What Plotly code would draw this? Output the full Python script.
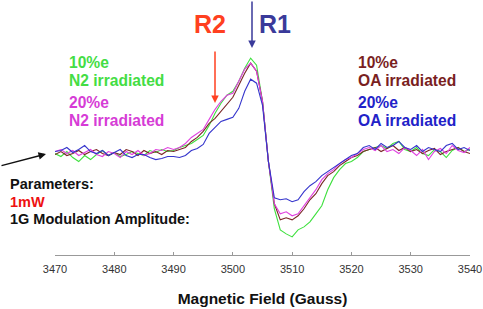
import plotly.graph_objects as go

field = list(range(3470, 3541))

green_n2_10 = [0, -3, 2, -4, -8, -2, -6, -1, 3, -2, 1, -3, -1, 2, 0, -2, 3, 1, 4, 2,
               3, 6, 8, 10, 14, 18, 28,
               40, 50, 58, 62, 72, 85, 95, 88,
               52, -8, -55, -76, -80, -83, -76, -73, -68, -60, -52, -36, -24, -16, -10, -8, -4,
               2, 4, 6, 8, 5, 10, 12, 4, 2, 6, 0, -2, 4, 2, -4, 3, 6, 2, 4]
magenta_n2_20 = [2, 4, 0, 3, -2, 1, 4, -1, -3, 2, 0, -4, 2, -1, 3, -2, 0, 4, 3, 6,
                 4, 6, 10, 16, 20, 24, 34,
                 44, 52, 58, 60, 72, 84, 90, 82,
                 52, -8, -50, -60, -58, -62, -60, -52, -44, -36, -26, -20, -16, -10, -6, -4, 0,
                 4, 6, 3, 8, 2, 4, 0, 6, 3, -2, 4, -6, 2, 5, 0, 8, 3, 1, 6]
brown_oa_10 = [-1, 2, -2, 0, 3, -1, 2, 4, 0, -2, 1, -1, 4, 2, -2, 3, 0, 2, -1, 3,
               2, 4, 6, 12, 16, 22, 30,
               35, 42, 50, 56, 68, 80, 90, 82,
               52, -8, -50, -66, -64, -66, -62, -55, -46, -40, -30, -22, -18, -12, -8, -4, -2,
               2, 4, 6, 2, 5, 8, 3, 6, 2, 4, 0, 3, 5, -1, 2, 4, 6, 2, 0]
blue_oa_20 = [2, 3, 6, 1, 4, 8, 2, 0, 3, -2, 1, 4, -2, -4, -1, -1, -4, -6, -5, -3,
              -3, -4, -2, 3, 5, 9, 20,
              26, 32, 34, 36, 45, 62, 74, 70,
              48, -8, -44, -46, -45, -48, -46, -38, -32, -28, -22, -18, -14, -10, -6, -2, 0,
              6, 8, 4, 10, 6, 8, 12, 6, 4, 8, 2, 6, 4, 2, 8, 10, 4, 6, 3]

series_names = ["10%e N2 irradiated", "10%e OA irradiated", "20%e N2 irradiated", "20%e OA irradiated"]
series_values = [green_n2_10, brown_oa_10, magenta_n2_20, blue_oa_20]
series_colors = ["#3ee03e", "#7a2626", "#e040e0", "#3535cc"]

tick_vals = [3470, 3480, 3490, 3500, 3510, 3520, 3530, 3540]
x_title = "Magnetic Field (Gauss)"

W, H = 483, 309
L, R, T, B = 55, 13, 40, 54
PW, PH = W - L - R, H - T - B


def px(x):
    return (x - L) / PW


def py(y):
    return (H - B - y) / PH


fig = go.Figure()
for name, vals, col in zip(series_names, series_values, series_colors):
    fig.add_trace(go.Scatter(x=field, y=vals, mode="lines", name=name,
                             line=dict(color=col, width=1.1)))

font_b = "Liberation Sans"
ann = []


def txt(x, y, s, color, size=15.6, xanchor="left"):
    ann.append(dict(x=px(x), y=py(y), xref="paper", yref="paper", text="<b>" + s + "</b>",
                    showarrow=False, xanchor=xanchor, yanchor="middle", borderpad=0,
                    font=dict(family=font_b, size=size, color=color)))


txt(68, 62, "10%e", "#44dd44")
txt(68, 80, "N2 irradiated", "#44dd44")
txt(68, 102, "20%e", "#d63cd6")
txt(68, 120, "N2 irradiated", "#d63cd6")
txt(357, 62, "10%e", "#7a1f1f")
txt(357, 80, "OA irradiated", "#7a1f1f")
txt(357, 102, "20%e", "#2222c8")
txt(357, 120, "OA irradiated", "#2222c8")
txt(9, 184, "Parameters:", "#111111", 14.5)
txt(9, 202, "1mW", "#ee1111", 14.5)
txt(9, 219, "1G Modulation Amplitude:", "#111111", 14.5)
txt(210, 24, "R2", "#ff4020", 25, "center")
txt(275, 24, "R1", "#3a3a9a", 25, "center")


def arrow(x, y, ax, ay, color, width):
    ann.append(dict(x=px(x), y=py(y), xref="paper", yref="paper", text="",
                    showarrow=True, ax=ax, ay=ay, axref="pixel", ayref="pixel",
                    arrowhead=2, arrowsize=1, arrowwidth=width, arrowcolor=color))


arrow(252, 48, 0, -50, "#3a3a9a", 1.5)
arrow(215, 103, 0, -53, "#ff4020", 1.5)
arrow(46, 154, -47, 12, "#111111", 1.5)

fig.update_layout(
    width=W, height=H,
    margin=dict(l=L, r=R, t=T, b=B, autoexpand=False),
    paper_bgcolor="white", plot_bgcolor="white",
    showlegend=False,
    annotations=ann,
    xaxis=dict(range=[3470, 3540], tickvals=tick_vals, showgrid=False, zeroline=False,
               automargin=False,
               showline=True, linecolor="#999999", linewidth=1, ticks="inside", ticklen=3,
               tickcolor="#999999", ticklabelstandoff=4,
               tickfont=dict(family="Liberation Sans", size=11, color="#333333"),
               title=dict(text="<b>" + x_title + "</b>", standoff=18,
                          font=dict(family=font_b, size=15.5, color="#111111"))),
    yaxis=dict(range=[-101, 113], visible=False, showgrid=False, zeroline=False, automargin=False),
)

fig.write_html("out.html", config={"displayModeBar": False, "staticPlot": True},
               post_script="document.body.style.margin='0px';")
